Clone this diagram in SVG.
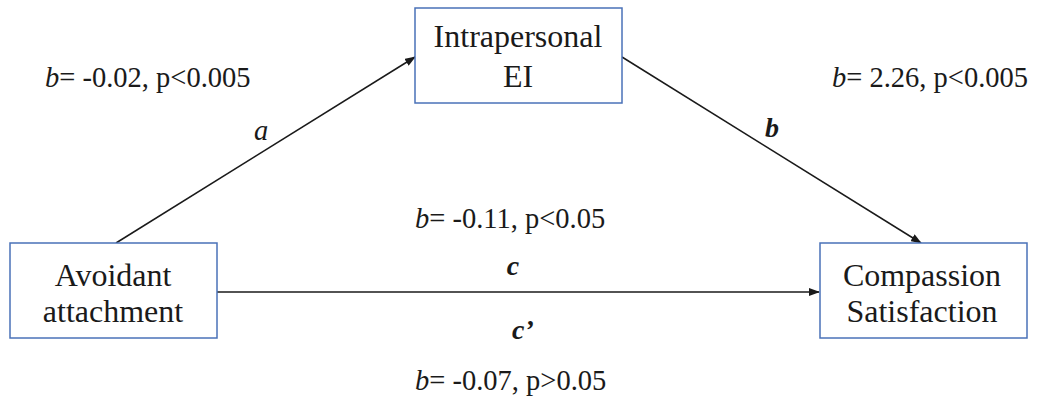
<svg xmlns="http://www.w3.org/2000/svg" width="1038" height="400" viewBox="0 0 1038 400">
<style>
.box{fill:#fff;stroke:#4a72b8;stroke-width:1.5}
.lbl{font-family:"Liberation Serif",serif;font-size:32px;fill:#1a1a1a;text-anchor:middle}
.st{font-family:"Liberation Serif",serif;font-size:28.5px;fill:#1a1a1a}
.edge{stroke:#1a1a1a;stroke-width:1.5;fill:none;marker-end:url(#ah)}
.bi{font-family:"Liberation Serif",serif;font-size:28px;font-style:italic;font-weight:bold;fill:#1a1a1a;text-anchor:middle}
</style>
<defs>
<marker id="ah" markerWidth="11" markerHeight="8" refX="10" refY="4" orient="auto" markerUnits="userSpaceOnUse">
<path d="M0,0 L11,4 L0,8 Z" fill="#1a1a1a"/>
</marker>
</defs>
<rect width="1038" height="400" fill="#fff"/>
<g id="connectors">
<line class="edge" x1="116" y1="243" x2="415" y2="57"/>
<line class="edge" x1="622" y1="57" x2="921" y2="243"/>
<line class="edge" x1="217" y1="292" x2="819" y2="292"/>
</g>
<g id="node-intrapersonal">
<rect class="box" x="415" y="8" width="207" height="95"/>
<text class="lbl" x="518" y="47" font-size="29.5">Intrapersonal</text>
<text class="lbl" x="518" y="87" font-size="29.5">EI</text>
</g>
<g id="node-avoidant">
<rect class="box" x="10" y="243" width="207" height="95"/>
<text class="lbl" x="113" y="286">Avoidant</text>
<text class="lbl" x="113" y="322">attachment</text>
</g>
<g id="node-compassion">
<rect class="box" x="820" y="243" width="207" height="95"/>
<text class="lbl" x="922" y="286">Compassion</text>
<text class="lbl" x="922" y="322">Satisfaction</text>
</g>
<g id="labels">
<text class="st" x="45" y="87"><tspan font-style="italic">b</tspan>= -0.02, p&lt;0.005</text>
<text class="st" x="261" y="140" font-style="italic" text-anchor="middle">a</text>
<text class="st" x="832" y="87"><tspan font-style="italic">b</tspan>= 2.26, p&lt;0.005</text>
<text class="bi" x="772" y="137">b</text>
<text class="st" x="415" y="228"><tspan font-style="italic">b</tspan>= -0.11, p&lt;0.05</text>
<text class="bi" x="513" y="275">c</text>
<text class="bi" x="523" y="339">c’</text>
<text class="st" x="415" y="390"><tspan font-style="italic">b</tspan>= -0.07, p&gt;0.05</text>
</g>
</svg>
